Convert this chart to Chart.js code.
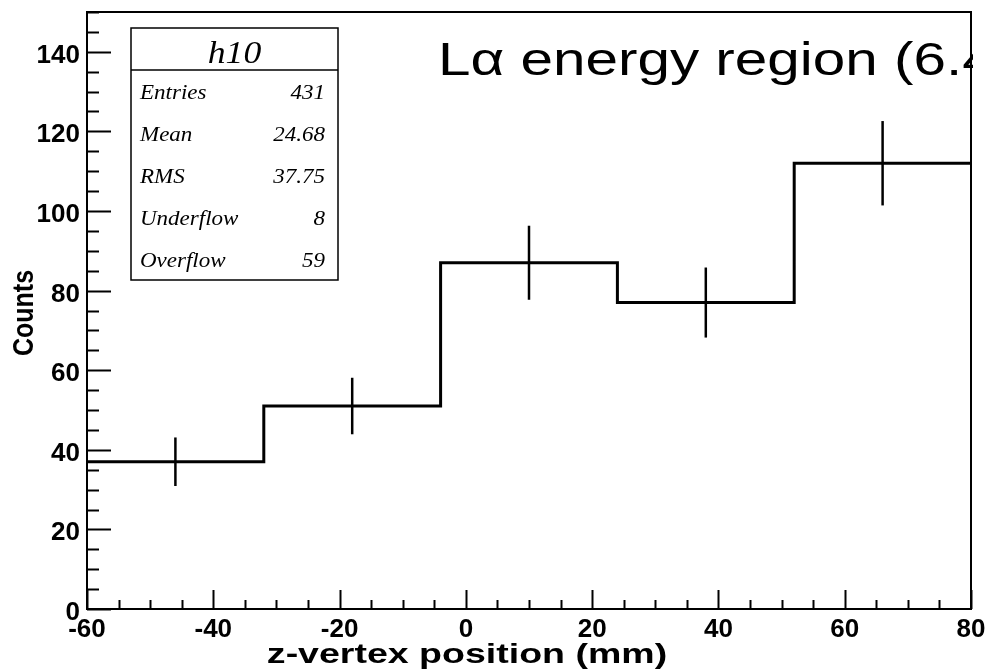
<!DOCTYPE html>
<html>
<head>
<meta charset="utf-8">
<script src="https://cdn.jsdelivr.net/npm/chart.js@4"></script>
<style>
  body { margin: 0; background: #fff; }
</style>
</head>
<body>
<canvas id="myChart" width="988" height="671"></canvas>
<script>
    // histogram h10
    const binEdges = [-60, -32, -4, 24, 52, 80];
    const counts = [37, 51, 87, 77, 112];
    const errors = [6.1, 7.1, 9.3, 8.8, 10.6];

    const xTicks = [-60, -40, -20, 0, 20, 40, 60, 80];
    const yTicks = [0, 20, 40, 60, 80, 100, 120, 140];

    const statNames = ['Entries', 'Mean', 'RMS', 'Underflow', 'Overflow'];
    const statValues = ['431', '24.68', '37.75', '8', '59'];

    const titleText = 'Lα energy region (6.4';

    // step outline: one point per left edge, last one repeated at the right edge
    const stepPoints = binEdges.map((e, i) => ({ x: e, y: counts[Math.min(i, counts.length - 1)] }));

    const errorSets = counts.map((c, i) => {
        const mid = (binEdges[i] + binEdges[i + 1]) / 2;
        return {
            data: [{ x: mid, y: c - errors[i] }, { x: mid, y: c + errors[i] }],
            showLine: true,
            borderColor: 'black',
            borderWidth: 2.5,
            pointRadius: 0
        };
    });

    function stretchText(ctx, txt, x, y, font, align, sx) {
        ctx.save();
        ctx.font = font;
        ctx.textAlign = align;
        ctx.textBaseline = 'alphabetic';
        ctx.translate(x, y);
        ctx.scale(sx, 1);
        ctx.fillText(txt, 0, 0);
        ctx.restore();
    }

    const rootFrame = {
        id: 'rootFrame',
        afterDraw(chart) {
            const {ctx, chartArea: {left, right, top, bottom}, scales: {x, y}} = chart;
            ctx.save();
            ctx.strokeStyle = 'black';
            ctx.fillStyle = 'black';
            ctx.lineWidth = 2;
            ctx.strokeRect(left, top, right - left, bottom - top);

            // y ticks (inside, left side)
            for (let v = 0; v <= 150; v += 5) {
                const py = Math.round(y.getPixelForValue(v)) + 0.5;
                const len = v % 20 === 0 ? 24 : 12;
                ctx.beginPath();
                ctx.moveTo(left, py);
                ctx.lineTo(left + len, py);
                ctx.stroke();
            }
            // x ticks (inside, bottom side)
            for (let v = -60; v <= 80; v += 5) {
                const px = Math.round(x.getPixelForValue(v)) + 0.5;
                const len = v % 20 === 0 ? 19 : 9;
                ctx.beginPath();
                ctx.moveTo(px, bottom);
                ctx.lineTo(px, bottom - len);
                ctx.stroke();
            }

            const tickFont = 'bold 26px "Liberation Sans", Arial, sans-serif';
            yTicks.forEach(v => {
                stretchText(ctx, String(v), left - 7, y.getPixelForValue(v) + 11, tickFont, 'right', 1.0);
            });
            xTicks.forEach(v => {
                stretchText(ctx, String(v), x.getPixelForValue(v), bottom + 28, tickFont, 'center', 1.0);
            });

            // axis titles
            stretchText(ctx, 'z-vertex position (mm)', 467, 663, 'bold 28px "Liberation Sans", Arial, sans-serif', 'center', 1.34);
            ctx.save();
            ctx.translate(33, 313);
            ctx.scale(1.2, 1);
            ctx.rotate(-Math.PI / 2);
            ctx.font = 'bold 25px "Liberation Sans", Arial, sans-serif';
            ctx.textAlign = 'center';
            ctx.fillText('Counts', 0, 0);
            ctx.restore();

            // stats box
            const bx = 131, by = 28, bw = 207, bh = 252;
            ctx.fillStyle = 'white';
            ctx.fillRect(bx, by, bw, bh);
            ctx.fillStyle = 'black';
            ctx.lineWidth = 1.5;
            ctx.strokeRect(bx, by, bw, bh);
            ctx.beginPath();
            ctx.moveTo(bx, 70);
            ctx.lineTo(bx + bw, 70);
            ctx.stroke();
            stretchText(ctx, 'h10', bx + bw / 2, 63, 'italic 31px "Liberation Serif", "Times New Roman", serif', 'center', 1.15);
            const statFont = 'italic 20px "Liberation Serif", "Times New Roman", serif';
            statNames.forEach((name, i) => {
                const base = 99 + i * 42;
                stretchText(ctx, name, 140, base, statFont, 'left', 1.15);
                stretchText(ctx, statValues[i], 325, base, statFont, 'right', 1.15);
            });

            // title, cut off by the pad edge
            ctx.save();
            ctx.beginPath();
            ctx.rect(0, 0, right + 2, bottom);
            ctx.clip();
            stretchText(ctx, titleText, 438, 75, '46px "Liberation Sans", Arial, sans-serif', 'left', 1.27);
            ctx.restore();

            ctx.restore();
        }
    };

    const config = {
      type: 'scatter',
      data: {
        datasets: [{
            data: stepPoints,
            showLine: true,
            stepped: 'before',
            borderColor: 'black',
            borderWidth: 3,
            pointRadius: 0
        }, ...errorSets]
      },
      options: {
        responsive: false,
        animation: false,
        layout: { padding: { left: 87, top: 12, right: 17, bottom: 62 } },
        plugins: {
            legend: { display: false },
            tooltip: { enabled: false }
        },
        scales: {
          x: { type: 'linear', min: -60, max: 80, display: false },
          y: { min: 0, max: 150, display: false }
        }
      },
      plugins: [rootFrame]
    };

    const myChart = new Chart(
      document.getElementById('myChart'),
      config
    );
</script>
</body>
</html>
